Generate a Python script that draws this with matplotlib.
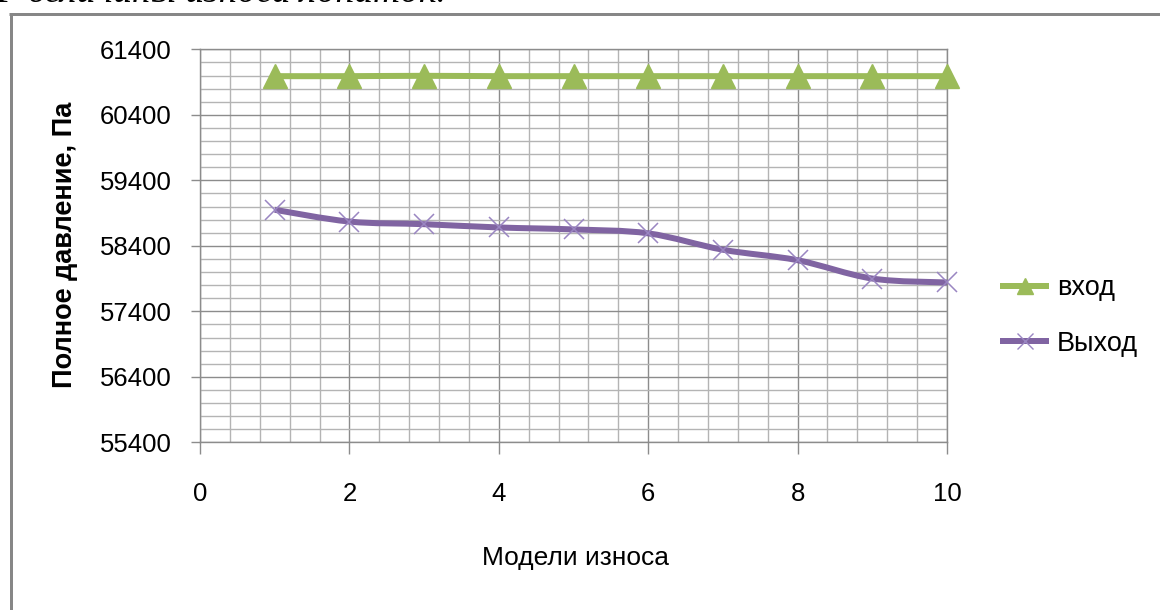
import matplotlib
matplotlib.use("Agg")
import matplotlib.pyplot as plt
from matplotlib.path import Path
from matplotlib.patches import PathPatch
from matplotlib.lines import Line2D
from matplotlib.ticker import MultipleLocator
import numpy as np

# Wear model numbers and total pressure (Pa) at inlet / outlet
models = [1, 2, 3, 4, 5, 6, 7, 8, 9, 10]
p_inlet = [60990, 60990, 60995, 60990, 60990, 60990, 60990, 60990, 60990, 60990]
p_outlet = [58950, 58770, 58730, 58680, 58650, 58590, 58340, 58180, 57900, 57840]
series_names = ["вход", "Выход"]
x_label = "Модели износа"
y_label = "Полное давление, Па"
y_ticks = [55400, 56400, 57400, 58400, 59400, 60400, 61400]
x_ticks = [0, 2, 4, 6, 8, 10]

GREEN = "#9BBB59"
PURPLE = "#8064A2"
MARKER_PURPLE = "#9A86C2"
GRID_MAJOR = "#8C8C8C"
GRID_MINOR = "#B4B4B4"

FONT = ["Liberation Sans", "DejaVu Sans"]
plt.rcParams["font.family"] = FONT

W, H = 1160, 610
fig = plt.figure(figsize=(W / 100, H / 100), dpi=100)


def fx(px):
    return px / W


def fy(py):
    return 1 - py / H


# last line of the caption above the chart, cut by the top edge
fig.text(fx(-4), fy(2.5), "Р величины износа лопаток.", family=["Liberation Serif", "DejaVu Serif"],
         style="italic", fontsize=27, va="baseline", ha="left", color="black")

# chart frame
px_pt = 0.72
fig.add_artist(Line2D([fx(10.5), fx(10.5)], [fy(13.5), fy(700)], color="#878787", lw=3 * px_pt,
                      transform=fig.transFigure, solid_capstyle="butt"))
fig.add_artist(Line2D([fx(9), fx(1200)], [fy(13.5), fy(13.5)], color="#878787", lw=3 * px_pt,
                      transform=fig.transFigure, solid_capstyle="butt"))

left, right, top, bottom = 200, 947, 49.3, 442.3
ax = fig.add_axes([fx(left), fy(bottom), fx(right - left), (bottom - top) / H])
ax.set_xlim(0, 10)
ax.set_ylim(55400, 61400)

# grid
ax.xaxis.set_major_locator(MultipleLocator(2))
ax.xaxis.set_minor_locator(MultipleLocator(0.4))
ax.yaxis.set_major_locator(MultipleLocator(1000))
ax.yaxis.set_minor_locator(MultipleLocator(200))
ax.set_yticks(y_ticks)
ax.set_xticks(x_ticks)
ax.grid(which="minor", color=GRID_MINOR, lw=1.4 * px_pt, zorder=0)
ax.grid(which="major", color=GRID_MAJOR, lw=1.4 * px_pt, zorder=0.5)
ax.set_axisbelow(True)
for s in ax.spines.values():
    s.set_color(GRID_MAJOR)
    s.set_linewidth(1.4 * px_pt)

ax.tick_params(axis="y", which="major", direction="out", length=6.5, width=1.4 * px_pt,
               color=GRID_MAJOR, pad=14, labelsize=18.5)
ax.tick_params(axis="x", which="major", direction="out", length=8.6, width=1.4 * px_pt,
               color=GRID_MAJOR, pad=20, labelsize=18.5)
ax.tick_params(which="minor", length=0)
ax.set_yticklabels([str(v) for v in y_ticks])
ax.set_xticklabels([str(v) for v in x_ticks])


def smooth_path(xs, ys):
    pts = np.column_stack([xs, ys]).astype(float)
    n = len(pts)
    verts = [pts[0]]
    codes = [Path.MOVETO]
    for i in range(n - 1):
        p0 = pts[i - 1] if i > 0 else pts[i]
        p1 = pts[i]
        p2 = pts[i + 1]
        p3 = pts[i + 2] if i + 2 < n else pts[i + 1]
        c1 = p1 + (p2 - p0) / 6.0
        c2 = p2 - (p3 - p1) / 6.0
        verts += [c1, c2, p2]
        codes += [Path.CURVE4] * 3
    return Path(verts, codes)


lw_series = 6 * px_pt
ax.add_patch(PathPatch(smooth_path(models, p_inlet), fill=False, edgecolor=GREEN, lw=lw_series,
                       zorder=3, capstyle="butt"))
ax.plot(models, p_inlet, ls="none", marker="^", ms=17, color=GREEN, mec=GREEN, zorder=4,
        clip_on=False)
ax.add_patch(PathPatch(smooth_path(models, p_outlet), fill=False, edgecolor=PURPLE, lw=lw_series,
                       zorder=3, capstyle="butt"))
ax.plot(models, p_outlet, ls="none", marker="x", ms=15, mew=1.1, color=MARKER_PURPLE, zorder=4,
        clip_on=False)

ax.set_xlabel(x_label, fontsize=19)
ax.xaxis.set_label_coords(fx(576), fy(558), transform=fig.transFigure)
ax.xaxis.label.set_verticalalignment("center")
ax.set_ylabel(y_label, fontsize=19.5, fontweight="bold")
ax.yaxis.set_label_coords(fx(65), fy(245), transform=fig.transFigure)
ax.yaxis.label.set_verticalalignment("center")

handles = [
    Line2D([], [], color=GREEN, lw=lw_series, marker="^", ms=12, mec=GREEN),
    Line2D([], [], color=PURPLE, lw=lw_series, marker="x", ms=11, mew=1.0, mec=MARKER_PURPLE),
]
fig.legend(handles, series_names, loc="center left", bbox_to_anchor=(fx(1003), fy(316)),
           frameon=False, fontsize=19.5, handlelength=1.6, handletextpad=0.4, labelspacing=1.1,
           borderpad=0, borderaxespad=0, numpoints=1)

fig.savefig("out.png", dpi=100)
